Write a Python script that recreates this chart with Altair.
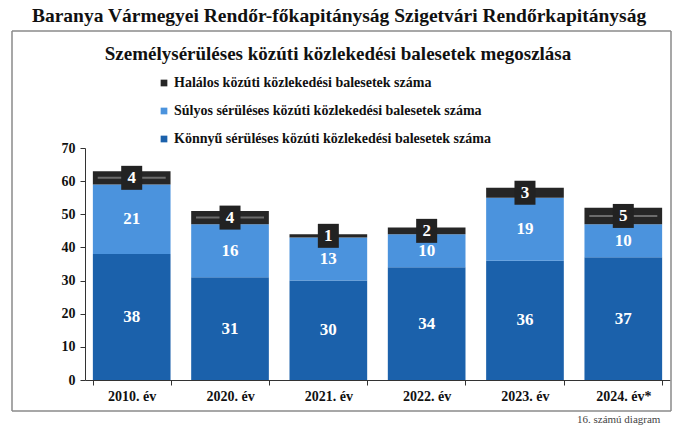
import altair as alt
import pandas as pd

years = ["2010. év", "2020. év", "2021. év", "2022. év", "2023. év", "2024. év*"]
konnyu = [38, 31, 30, 34, 36, 37]
sulyos = [21, 16, 13, 10, 19, 10]
halalos = [4, 4, 1, 2, 3, 5]
series = [
    "Halálos közúti közlekedési balesetek száma",
    "Súlyos sérüléses közúti közlekedési balesetek száma",
    "Könnyű sérüléses közúti közlekedési balesetek száma",
]
colors = ["#262626", "#4b93dd", "#1b61ab"]
header = "Baranya Vármegyei Rendőr-főkapitányság  Szigetvári Rendőrkapitányság"
chart_title = "Személysérüléses közúti közlekedési balesetek megoszlása"
footnote = "16. számú diagram"

FONT = "Liberation Serif"

rows = []
for i, yr in enumerate(years):
    base = 0
    for s, vals in [(series[2], konnyu), (series[1], sulyos), (series[0], halalos)]:
        v = vals[i]
        rows.append(dict(year=yr, series=s, v=v, y0=base, y1=base + v, mid=base + v / 2))
        base += v
df = pd.DataFrame(rows)

W, H = 585, 232

xaxis = alt.Axis(labelAngle=0, tickBand="extent", tickSize=5, labelPadding=4,
                 labelFont=FONT, labelFontWeight="bold", labelFontSize=14,
                 labelColor="#111", domainColor="#333", tickColor="#333")
xscale = alt.Scale(paddingInner=0.21, paddingOuter=0.08)
yscale = alt.Scale(domain=[0, 70], nice=False)
yaxis = alt.Axis(values=list(range(0, 71, 10)), grid=False, tickSize=5, labelPadding=5,
                 labelFont=FONT, labelFontWeight="bold", labelFontSize=14,
                 labelColor="#111", domainColor="#333", tickColor="#333")


def X():
    return alt.X("year:N", sort=years, title=None, scale=xscale, axis=xaxis)


def Y(field):
    return alt.Y(field, scale=yscale, axis=yaxis, title=None)


base = alt.Chart(df)

bars = base.mark_bar().encode(
    x=X(),
    y=Y("y0:Q"),
    y2="y1:Q",
    color=alt.Color(
        "series:N",
        scale=alt.Scale(domain=series, range=colors),
        legend=alt.Legend(
            orient="none", legendX=72, legendY=-72, title=None,
            symbolType="square", symbolSize=45, symbolStrokeWidth=0,
            labelFont=FONT, labelFontSize=14, labelFontWeight="bold",
            labelColor="#111", rowPadding=14, labelOffset=3, labelLimit=0,
        ),
    ),
)

seg_labels = base.transform_filter(
    alt.datum.series != series[0]
).mark_text(font=FONT, fontSize=17, fontWeight="bold", color="white").encode(
    x=X(), y=Y("mid:Q"), text="v:Q",
)

gray_line = base.transform_filter(
    (alt.datum.series == series[0]) & (alt.datum.v >= 4)
).mark_tick(color="#8a8a8a", thickness=2, size=68).encode(
    x=X(), y=Y("mid:Q"),
)

boxes = base.transform_filter(
    alt.datum.series == series[0]
).mark_point(
    shape="M-0.875,-1H0.875V1H-0.875Z", filled=True, size=576, color="#222222", opacity=1
).encode(x=X(), y=Y("mid:Q"))

box_labels = base.transform_filter(
    alt.datum.series == series[0]
).mark_text(font=FONT, fontSize=17, fontWeight="bold", color="white").encode(
    x=X(), y=Y("mid:Q"), text="v:Q",
)

head = alt.Chart(pd.DataFrame({"t": [header]})).mark_text(
    font=FONT, fontSize=19.5, fontWeight="bold", color="#111", baseline="middle"
).encode(x=alt.value(254), y=alt.value(-132), text="t:N")

t2 = alt.Chart(pd.DataFrame({"t": [chart_title]})).mark_text(
    font=FONT, fontSize=19, fontWeight="bold", color="#111", baseline="middle"
).encode(x=alt.value(253), y=alt.value(-94), text="t:N")

foot = alt.Chart(pd.DataFrame({"t": [footnote]})).mark_text(
    font=FONT, fontSize=11, color="#444", align="left", baseline="middle"
).encode(x=alt.value(492), y=alt.value(272), text="t:N")

bd = pd.DataFrame({"k": [0]})
bcol = "#8a8a8a"
top_b = alt.Chart(bd).mark_rule(color=bcol, strokeWidth=1.5).encode(
    x=alt.value(-73), x2=alt.value(586), y=alt.value(-117))
bot_b = alt.Chart(bd).mark_rule(color=bcol, strokeWidth=1.5).encode(
    x=alt.value(-73), x2=alt.value(586), y=alt.value(263))
left_b = alt.Chart(bd).mark_rule(color=bcol, strokeWidth=1.5).encode(
    x=alt.value(-73), y=alt.value(-117), y2=alt.value(263))
right_b = alt.Chart(bd).mark_rule(color=bcol, strokeWidth=1.5).encode(
    x=alt.value(586), y=alt.value(-117), y2=alt.value(263))

chart = alt.layer(
    bars, gray_line, seg_labels, boxes, box_labels,
    top_b, bot_b, left_b, right_b, head, t2, foot,
).properties(
    width=W, height=H,
    autosize=alt.AutoSizeParams(type="none"),
    padding={"left": 85, "top": 148, "right": 8, "bottom": 47},
    background="white",
).configure_view(stroke=None)

chart.save("out.html", embed_options={"renderer": "svg", "actions": False})
